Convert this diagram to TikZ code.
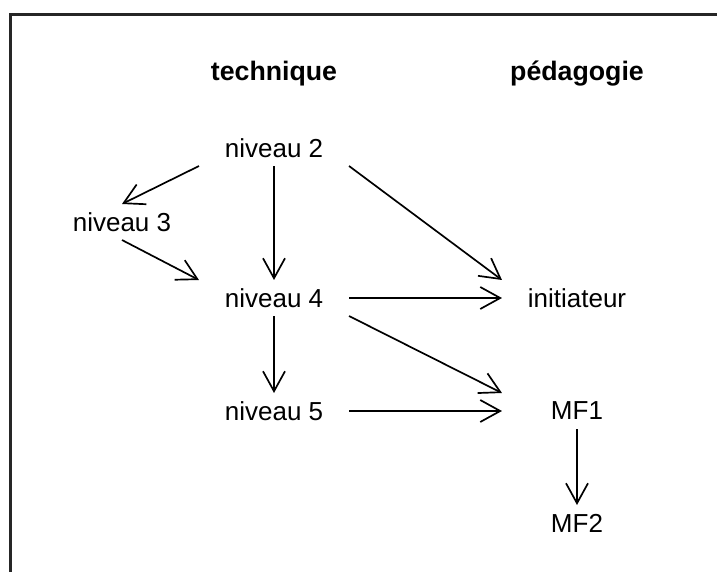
\documentclass[tikz,border=0pt]{standalone}
\usepackage{fontspec}
\setmainfont{Liberation Sans}
\usetikzlibrary{arrows.meta}

\begin{document}
\begin{tikzpicture}[
    x=0.025cm, y=-0.025cm,
    font=\fontsize{18.5}{22}\selectfont,
    lvl/.style={minimum width=3.75cm, minimum height=0.9cm,
                inner sep=0pt, outer sep=0pt},
    head/.style={font=\fontsize{19}{22}\selectfont\bfseries, anchor=base},
    arr/.style={-{Straight Barb[length=5mm, width=5.5mm]}, line width=1.2pt},
  ]
  % --- grid geometry: columns = technique / pedagogie, rows = levels ---
  \def\colA{122}  \def\colB{274}  \def\colC{577}
  \def\rowA{148}  \def\rowB{222}  \def\rowC{298}
  \def\rowD{411}  \def\rowE{523}

  \useasboundingbox (0,0) rectangle (717,572);

  % --- open frame: left and top edges only ---
  \draw[line width=1.5pt, black!85] (10.5,572) -- (10.5,14.5) -- (717,14.5);

  % --- column headers ---
  \node[head] (hTech) at (\colB,80) {technique};
  \node[head] (hPeda) at (\colC,80) {pédagogie};

  % --- technique column ---
  \node[lvl] (n2) at (\colB,\rowA) {niveau 2};
  \node[lvl] (n3) at (\colA,\rowB) {niveau 3};
  \node[lvl] (n4) at (\colB,\rowC) {niveau 4};
  \node[lvl] (n5) at (\colB,\rowD) {niveau 5};

  % --- pedagogie column ---
  \node[lvl] (init) at (\colC,\rowC) {initiateur};
  \node[lvl] (mf1)  at (\colC,\rowD) {MF1};
  \node[lvl] (mf2)  at (\colC,\rowE) {MF2};

  % --- arrows ---
  \draw[arr] (n2.south west) -- (n3.north);
  \draw[arr] (n2.south) -- (n4.north);
  \draw[arr] (n3.south) -- (n4.north west);
  \draw[arr] (n2.south east) -- (init.north west);
  \draw[arr] (n4.east) -- (init.west);
  \draw[arr] (n4.south east) -- (mf1.north west);
  \draw[arr] (n4.south) -- (n5.north);
  \draw[arr] (n5.east) -- (mf1.west);
  \draw[arr] (mf1.south) -- (mf2.north);
\end{tikzpicture}
\end{document}
